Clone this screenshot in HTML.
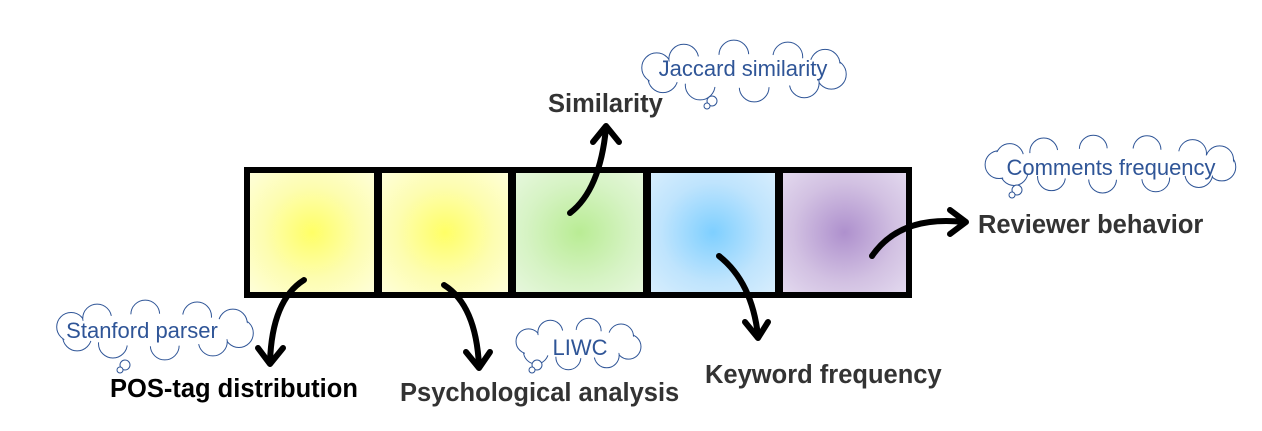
<!DOCTYPE html>
<html><head><meta charset="utf-8"><style>
html,body{margin:0;padding:0;background:#fff;}
svg{display:block}
.lbl{font-family:"Liberation Sans",Arial,sans-serif;font-weight:bold;font-size:25.5px;fill:#333}
.ct{font-family:"Liberation Sans","DejaVu Sans",sans-serif;font-size:22px;fill:#2f5597}
</style></head><body>
<svg id="s" width="1262" height="431" viewBox="0 0 1262 431" xmlns="http://www.w3.org/2000/svg">
<defs>
<radialGradient id="gy" cx="50%" cy="50%" r="70%"><stop offset="0" stop-color="#ffff66"/><stop offset="0.55" stop-color="#fdfdb0"/><stop offset="1" stop-color="#fefed8"/></radialGradient>
<radialGradient id="gg" cx="50%" cy="50%" r="70%"><stop offset="0" stop-color="#b9ec94"/><stop offset="0.6" stop-color="#d6f3c4"/><stop offset="1" stop-color="#e6f7dc"/></radialGradient>
<radialGradient id="gb" cx="50%" cy="50%" r="70%"><stop offset="0" stop-color="#7ecfff"/><stop offset="0.6" stop-color="#bfe4fd"/><stop offset="1" stop-color="#d6edfd"/></radialGradient>
<radialGradient id="gp" cx="50%" cy="50%" r="70%"><stop offset="0" stop-color="#ae90cd"/><stop offset="0.6" stop-color="#d2c1e2"/><stop offset="1" stop-color="#e2d8ee"/></radialGradient>
</defs>
<rect x="244" y="167" width="668" height="131" fill="#000"/>
<rect x="250" y="173" width="124" height="119" fill="url(#gy)"/>
<rect x="382" y="173" width="126" height="119" fill="url(#gy)"/>
<rect x="516" y="173" width="127" height="119" fill="url(#gg)"/>
<rect x="651" y="173" width="124" height="119" fill="url(#gb)"/>
<rect x="783" y="173" width="123" height="119" fill="url(#gp)"/>
<g id="clouds"></g>
<g fill="none" stroke="#000" stroke-width="6" stroke-linecap="round" stroke-linejoin="round">
<path d="M570 213 Q600 190 606 128"/><path d="M593 142 L606 126 L619 142"/>
<path d="M304 280 Q272 300 270 362"/><path d="M258 348 L270 364 L283 348"/>
<path d="M444 285 Q476 305 479 366"/><path d="M466 352 L479 368 L490 352"/>
<path d="M719 256 Q752 282 758 336"/><path d="M745 322 L758 338 L768 322"/>
<path d="M872 256 Q900 215 964 222"/><path d="M950 210 L966 222 L950 234"/>
</g>
<text class="lbl" x="548" y="112">Similarity</text>
<text class="lbl" x="978" y="233">Reviewer behavior</text>
<text class="lbl" x="110" y="397" style="fill:#000">POS-tag distribution</text>
<text class="lbl" x="400" y="401">Psychological analysis</text>
<text class="lbl" x="705" y="383">Keyword frequency</text>
<text class="ct" x="743" y="76" text-anchor="middle">Jaccard similarity</text>
<text class="ct" x="1111" y="175" text-anchor="middle">Comments frequency</text>
<text class="ct" x="142" y="338" text-anchor="middle">Stanford parser</text>
<text class="ct" x="580" y="355" text-anchor="middle">LIWC</text>
</svg>
<script>
var g=document.getElementById('clouds'),NS='http://www.w3.org/2000/svg';
function el(t,a){var e=document.createElementNS(NS,t);for(var k in a)e.setAttribute(k,a[k]);g.appendChild(e);return e;}
function cloud(x0,y0,w,h,bx,by){
 var cx=x0+w/2,cy=y0+h/2,rx=w/2,ry=h/2,n=Math.max(8,Math.round(w/20));
 var br=Math.min(h*0.24,w/n*0.85);
 var pts=[];for(var i=0;i<n;i++){var a=i/n*2*Math.PI+0.2;pts.push([cx+(rx-br)*Math.cos(a),cy+(ry-br)*Math.sin(a)]);}
 pts.forEach(function(p){el('circle',{cx:p[0],cy:p[1],r:br,fill:'#fff',stroke:'#2f5597','stroke-width':1});});
 el('ellipse',{cx:cx,cy:cy,rx:rx-br*0.95,ry:ry-br*0.95,fill:'#fff'});
 pts.forEach(function(p){el('circle',{cx:p[0],cy:p[1],r:br-1.2,fill:'#fff'});});
 el('circle',{cx:bx+5,cy:by-5,r:5,fill:'#fff',stroke:'#2f5597','stroke-width':1});
 el('circle',{cx:bx,cy:by,r:3,fill:'#fff',stroke:'#2f5597','stroke-width':1});
}
cloud(640,40,208,62,707,106);
cloud(985,135,253,58,1012,195);
cloud(55,300,200,60,120,370);
cloud(515,318,127,52,532,370);
</script>
</body></html>
